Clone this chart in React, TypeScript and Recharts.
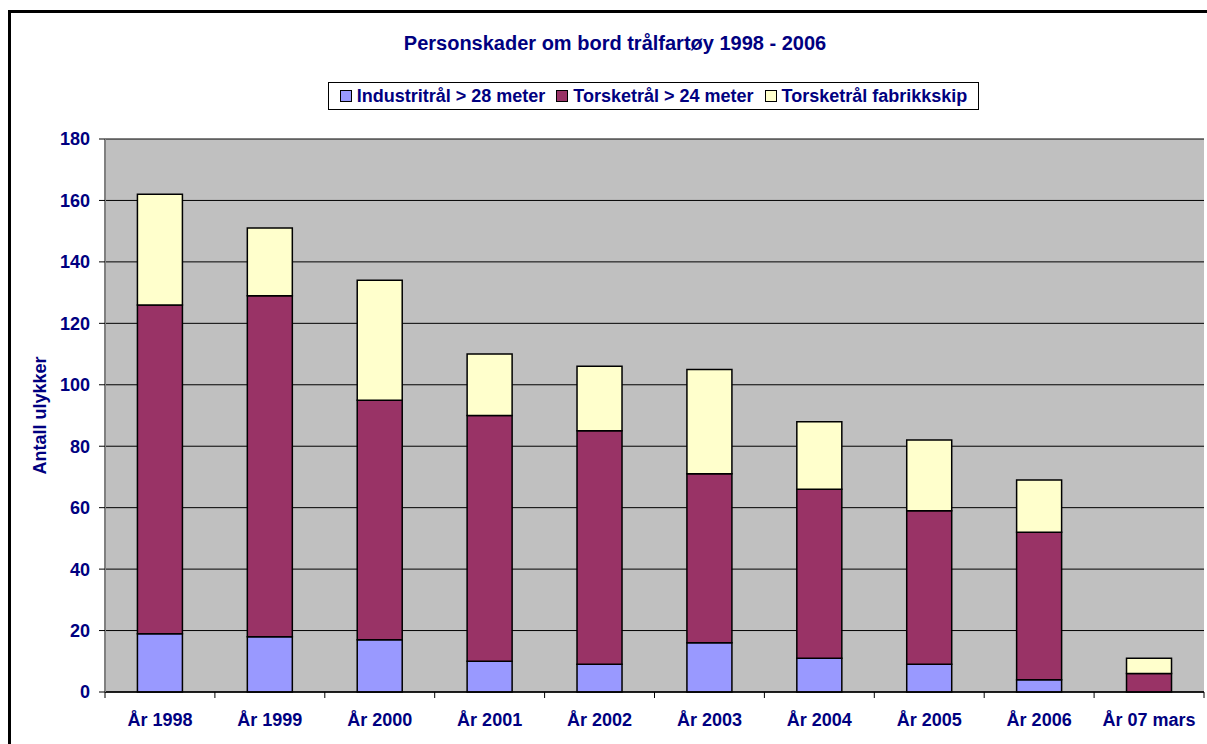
import React from 'react';
import { BarChart, Bar, XAxis, YAxis, CartesianGrid } from 'recharts';

const categories = ['År 1998', 'År 1999', 'År 2000', 'År 2001', 'År 2002', 'År 2003', 'År 2004', 'År 2005', 'År 2006', 'År 07 mars'];
const industritral = [19, 18, 17, 10, 9, 16, 11, 9, 4, 0];
const torsketral = [107, 111, 78, 80, 76, 55, 55, 50, 48, 6];
const fabrikkskip = [36, 22, 39, 20, 21, 34, 22, 23, 17, 5];
const yTicks = [0, 20, 40, 60, 80, 100, 120, 140, 160, 180];

const seriesInfo = [
  { key: 'industri', name: 'Industritrål > 28 meter', color: '#9999FF' },
  { key: 'torske', name: 'Torsketrål > 24 meter', color: '#993366' },
  { key: 'fabrikk', name: 'Torsketrål fabrikkskip', color: '#FFFFCC' },
];

const data = categories.map((c, i) => ({
  cat: c,
  industri: industritral[i],
  torske: torsketral[i],
  fabrikk: fabrikkskip[i],
}));

const FONT = '"Liberation Sans", Arial, sans-serif';
const NAVY = '#000080';
const W = 1207;
const H = 744;
const M = { top: 139, right: 3, bottom: 12, left: 45 };
const Y_W = 60;
const plotLeft = M.left + Y_W;
const plotWidth = W - plotLeft - M.right;
const step = plotWidth / categories.length;

const XTick = (props: any) => {
  const { x, y, payload, index } = props;
  const axisY = y - 6;
  return (
    <g>
      <line x1={x - step / 2} y1={axisY} x2={x - step / 2} y2={axisY + 6} stroke="#000" strokeWidth={1} />
      {index === categories.length - 1 && (
        <line x1={x + step / 2} y1={axisY} x2={x + step / 2} y2={axisY + 6} stroke="#000" strokeWidth={1} />
      )}
      <text x={x} y={y} dy={28} textAnchor="middle" fill={NAVY} fontWeight="bold" fontSize={18} fontFamily={FONT}>
        {payload.value}
      </text>
    </g>
  );
};

export default function App() {
  return (
    <div style={{ position: 'absolute', left: 0, top: 0, width: W, height: H, overflow: 'hidden', background: '#fff', fontFamily: FONT }}>
      <div style={{ position: 'absolute', left: 8, top: 10, width: 1300, height: 800, border: '3px solid #000', boxSizing: 'border-box' }} />
      <div style={{ position: 'absolute', left: 0, top: 33, width: 1230, textAlign: 'center', fontSize: 20, lineHeight: '20px', fontWeight: 'bold', color: NAVY }}>
        Personskader om bord trålfartøy 1998 - 2006
      </div>
      <div style={{ position: 'absolute', left: 328, top: 82, width: 651, height: 28, border: '1px solid #000', boxSizing: 'border-box', display: 'flex', alignItems: 'center', justifyContent: 'center', gap: 11, background: '#fff' }}>
        {seriesInfo.map((s) => (
          <div key={s.key} style={{ display: 'flex', alignItems: 'center', gap: 5 }}>
            <div style={{ width: 10, height: 10, background: s.color, border: '1.5px solid #000' }} />
            <span style={{ fontSize: 18, fontWeight: 'bold', color: NAVY, lineHeight: '20px' }}>{s.name}</span>
          </div>
        ))}
      </div>
      <div style={{ position: 'absolute', left: 0, top: 0 }}>
        <BarChart width={W} height={H} data={data} margin={M} barCategoryGap="29.5%">
          <CartesianGrid horizontal={true} vertical={false} stroke="#000" strokeWidth={1} fill="#C0C0C0" fillOpacity={1} />
          <XAxis
            dataKey="cat"
            height={40}
            axisLine={{ stroke: '#000', strokeWidth: 1.5 }}
            tickLine={false}
            tickSize={6}
            tickMargin={0}
            interval={0}
            tick={<XTick />}
          />
          <XAxis xAxisId="top" orientation="top" dataKey="cat" height={0} tick={false} tickLine={false} axisLine={{ stroke: '#808080', strokeWidth: 2 }} />
          <YAxis
            width={Y_W}
            domain={[0, 180]}
            ticks={yTicks}
            interval={0}
            axisLine={{ stroke: '#808080', strokeWidth: 2 }}
            tickLine={{ stroke: '#000' }}
            tickSize={6}
            tickMargin={9}
            tick={{ fill: NAVY, fontWeight: 'bold', fontSize: 18, fontFamily: FONT }}
            label={{
              content: (p: any) => {
                const vb = p.viewBox;
                const cx = vb.x - 5;
                const cy = vb.y + vb.height / 2;
                return (
                  <text x={cx} y={cy} transform={`rotate(-90 ${cx} ${cy})`} textAnchor="middle" dominantBaseline="central" fill={NAVY} fontWeight="bold" fontSize={18} fontFamily={FONT}>
                    Antall ulykker
                  </text>
                );
              },
            }}
          />
          <YAxis yAxisId="right" orientation="right" width={0} domain={[0, 180]} tick={false} tickLine={false} axisLine={{ stroke: '#808080', strokeWidth: 2 }} />
          {seriesInfo.map((s) => (
            <Bar key={s.key} dataKey={s.key} name={s.name} stackId="a" fill={s.color} stroke="#000" strokeWidth={1.5} isAnimationActive={false} />
          ))}
        </BarChart>
      </div>
    </div>
  );
}
